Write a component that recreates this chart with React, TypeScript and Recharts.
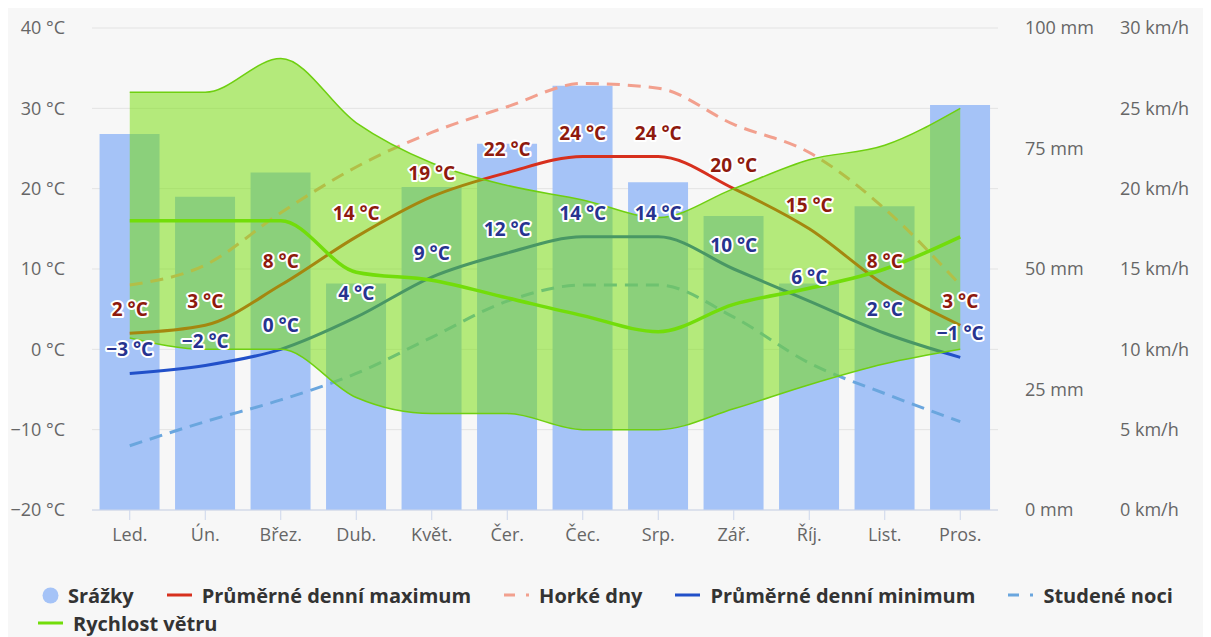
import React from 'react';
import { ComposedChart, Bar, Line, Area, XAxis, YAxis, CartesianGrid, LabelList } from 'recharts';

const months = ['Led.', 'Ún.', 'Břez.', 'Dub.', 'Květ.', 'Čer.', 'Čec.', 'Srp.', 'Zář.', 'Říj.', 'List.', 'Pros.'];
const precipitation = [78, 65, 70, 47, 67, 76, 88, 68, 61, 47, 63, 84];
const tempMax = [2, 3, 8, 14, 19, 22, 24, 24, 20, 15, 8, 3];
const tempMin = [-3, -2, 0, 4, 9, 12, 14, 14, 10, 6, 2, -1];
const hotDays = [8, 10.5, 17, 22.7, 27, 30.2, 33.1, 32.5, 28, 24.5, 17.5, 8];
const coldNights = [-12, -9, -6.3, -3, 1.5, 6, 8, 8, 4, -1.7, -5.5, -9];
const windMean = [18, 18, 18, 14.8, 14.3, 13.2, 12.1, 11.1, 12.8, 13.8, 15, 17];
const windHigh = [26, 26, 28.1, 24.1, 21.6, 20.2, 19.3, 18.2, 20, 21.8, 22.7, 25];
const windLow = [10.7, 10, 10, 7, 6, 6, 5, 5, 6.3, 7.8, 9.1, 10];

const tempTicks = [-20, -10, 0, 10, 20, 30, 40];
const mmTicks = [0, 25, 50, 75, 100];
const windTicks = [0, 5, 10, 15, 20, 25, 30];

const data = months.map((m, i) => ({
  month: m,
  precipitation: precipitation[i],
  tempMax: tempMax[i],
  tempMin: tempMin[i],
  hotDays: hotDays[i],
  coldNights: coldNights[i],
  windMean: windMean[i],
  windRange: [windLow[i], windHigh[i]],
}));

const FONT = "'Open Sans', 'Noto Sans', sans-serif";
const fmtTemp = (v: number) => (v < 0 ? `\u2212${Math.abs(v)} °C` : `${v} °C`);

const makeLabel = (color: string) => (props: any) => {
  const { x, y, value } = props;
  if (x == null || y == null) return null;
  return (
    <text
      x={x}
      y={y - 17}
      textAnchor="middle"
      fill={color}
      stroke="#ffffff"
      strokeWidth={4}
      strokeLinejoin="round"
      paintOrder="stroke"
      fontSize={19}
      fontWeight={700}
      fontFamily={FONT}
    >
      {fmtTemp(value)}
    </text>
  );
};

const COLORS = {
  bar: '#a5c3f7',
  max: '#d7301e',
  min: '#2150c9',
  hot: '#f2a08e',
  cold: '#6aa6de',
  wind: '#72dd0a',
  area: '#71dd00',
  areaStroke: '#6fcf10',
};

const LineIcon = ({ color }: { color: string }) => (
  <svg width={25} height={6} style={{ marginRight: 10 }}>
    <rect x={0} y={1.5} width={25} height={3} fill={color} />
  </svg>
);
const DashIcon = ({ color }: { color: string }) => (
  <svg width={25} height={6} style={{ marginRight: 10 }}>
    <rect x={0} y={1.5} width={11} height={3} fill={color} />
    <rect x={22} y={1.5} width={3} height={3} fill={color} />
  </svg>
);
const CircleIcon = ({ color }: { color: string }) => (
  <svg width={17} height={17} style={{ marginRight: 9 }}>
    <circle cx={8.5} cy={8.5} r={8} fill={color} />
  </svg>
);

const legendRow1 = [
  { name: 'Srážky', kind: 'circle', color: COLORS.bar },
  { name: 'Průměrné denní maximum', kind: 'line', color: COLORS.max },
  { name: 'Horké dny', kind: 'dash', color: COLORS.hot },
  { name: 'Průměrné denní minimum', kind: 'line', color: COLORS.min },
  { name: 'Studené noci', kind: 'dash', color: COLORS.cold },
];
const legendRow2 = [{ name: 'Rychlost větru', kind: 'line', color: COLORS.wind }];

const LegendItem = ({ item }: { item: any }) => (
  <div style={{ display: 'flex', alignItems: 'center', marginRight: 33 }}>
    {item.kind === 'circle' ? (
      <CircleIcon color={item.color} />
    ) : item.kind === 'dash' ? (
      <DashIcon color={item.color} />
    ) : (
      <LineIcon color={item.color} />
    )}
    <span style={{ fontSize: 20, fontWeight: 700, color: '#333333', fontFamily: FONT, whiteSpace: 'nowrap' }}>
      {item.name}
    </span>
  </div>
);

export default function App() {
  return (
    <div style={{ position: 'relative', width: 1203, height: 629, background: '#f7f7f7' }}>
      <ComposedChart
        width={1203}
        height={629}
        data={data}
        margin={{ top: 20, right: 0, left: 0, bottom: 87 }}
        barCategoryGap="10%"
      >
        <CartesianGrid yAxisId="temp" vertical={false} stroke="#e3e3e3" />
        <XAxis
          dataKey="month"
          height={40}
          tickSize={10}
          tickMargin={8}
          axisLine={{ stroke: '#ccd6eb' }}
          tickLine={{ stroke: '#ccd6eb' }}
          tick={{ fill: '#666666', fontSize: 18, fontFamily: FONT }}
        />
        <YAxis
          yAxisId="temp"
          orientation="left"
          width={84}
          domain={[-20, 40]}
          ticks={tempTicks}
          tickFormatter={fmtTemp}
          axisLine={false}
          tickLine={false}
          tickSize={0}
          tickMargin={27}
          tick={{ fill: '#666666', fontSize: 18, fontFamily: FONT }}
        />
        <YAxis
          yAxisId="mm"
          orientation="right"
          width={95}
          domain={[0, 100]}
          ticks={mmTicks}
          tickFormatter={(v: number) => `${v} mm`}
          axisLine={false}
          tickLine={false}
          tickSize={0}
          tickMargin={27}
          tick={{ fill: '#666666', fontSize: 18, fontFamily: FONT, textAnchor: 'start' }}
        />
        <YAxis
          yAxisId="wind"
          orientation="right"
          width={118}
          domain={[0, 30]}
          ticks={windTicks}
          tickFormatter={(v: number) => `${v} km/h`}
          axisLine={false}
          tickLine={false}
          tickSize={0}
          tickMargin={27}
          tick={{ fill: '#666666', fontSize: 18, fontFamily: FONT, textAnchor: 'start' }}
        />
        <Bar yAxisId="mm" dataKey="precipitation" fill={COLORS.bar} isAnimationActive={false} />
        <Line yAxisId="temp" type="monotone" dataKey="hotDays" stroke={COLORS.hot} strokeWidth={3} strokeDasharray="13 8" dot={false} activeDot={false} isAnimationActive={false} />
        <Line yAxisId="temp" type="monotone" dataKey="coldNights" stroke={COLORS.cold} strokeWidth={3} strokeDasharray="13 8" dot={false} activeDot={false} isAnimationActive={false} />
        <Line yAxisId="temp" type="monotone" dataKey="tempMax" stroke={COLORS.max} strokeWidth={3} dot={false} activeDot={false} isAnimationActive={false} />
        <Line yAxisId="temp" type="monotone" dataKey="tempMin" stroke={COLORS.min} strokeWidth={3} dot={false} activeDot={false} isAnimationActive={false} />
        <Area
          yAxisId="wind"
          type="monotone"
          dataKey="windRange"
          fill={COLORS.area}
          fillOpacity={0.5}
          stroke={COLORS.areaStroke}
          strokeWidth={1.5}
          isAnimationActive={false}
          activeDot={false}
          {...({ zIndex: 450 } as any)}
        />
        <Line
          yAxisId="wind"
          type="monotone"
          dataKey="windMean"
          stroke={COLORS.wind}
          strokeWidth={3.5}
          dot={false}
          activeDot={false}
          isAnimationActive={false}
          {...({ zIndex: 460 } as any)}
        />
        <Line yAxisId="temp" type="monotone" dataKey="tempMax" stroke="none" dot={false} activeDot={false} isAnimationActive={false} {...({ zIndex: 470 } as any)}>
          <LabelList dataKey="tempMax" content={makeLabel('#8e1a0e')} />
        </Line>
        <Line yAxisId="temp" type="monotone" dataKey="tempMin" stroke="none" dot={false} activeDot={false} isAnimationActive={false} {...({ zIndex: 470 } as any)}>
          <LabelList dataKey="tempMin" content={makeLabel('#27338f')} />
        </Line>
      </ComposedChart>
      <div style={{ position: 'absolute', left: 34, top: 573, display: 'flex', flexDirection: 'column' }}>
        <div style={{ display: 'flex', alignItems: 'center', height: 28 }}>
          {legendRow1.map((it) => (
            <LegendItem key={it.name} item={it} />
          ))}
        </div>
        <div style={{ display: 'flex', alignItems: 'center', height: 28, marginLeft: -4 }}>
          {legendRow2.map((it) => (
            <LegendItem key={it.name} item={it} />
          ))}
        </div>
      </div>
    </div>
  );
}
